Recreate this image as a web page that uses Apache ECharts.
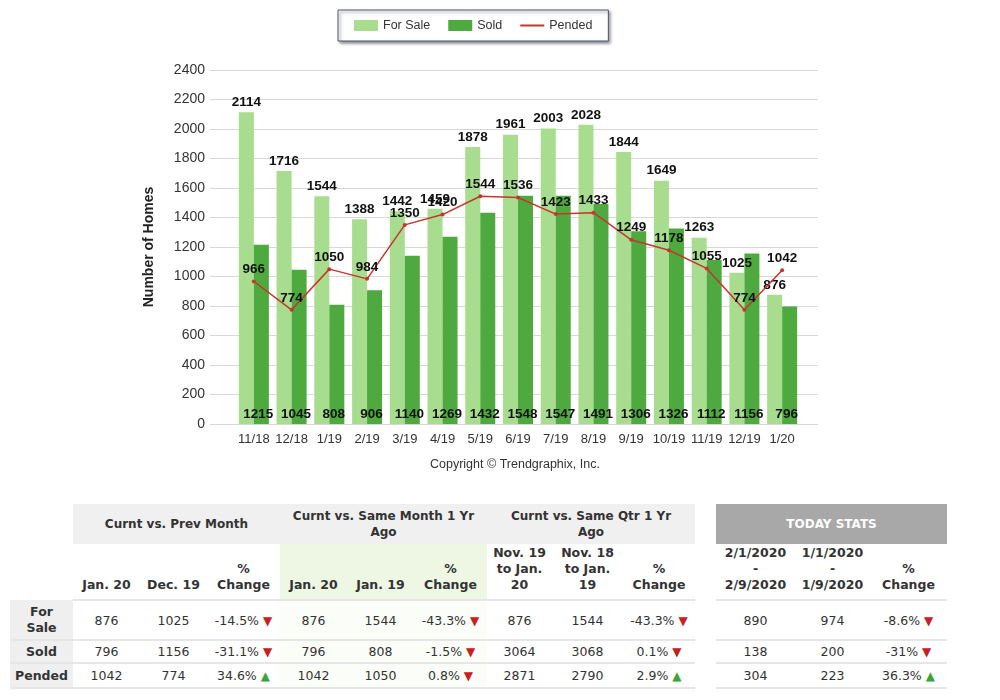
<!DOCTYPE html>
<html><head><meta charset="utf-8">
<script src="https://cdn.jsdelivr.net/npm/echarts@6/dist/echarts.min.js"></script>
<style>
html,body{margin:0;padding:0;background:#fff;}
body{width:1000px;height:700px;overflow:hidden;position:relative;font-family:"DejaVu Sans",sans-serif;}
#chart{position:absolute;left:0;top:0;width:1000px;height:490px;}
#tbl{position:absolute;left:10px;top:504px;border-collapse:collapse;table-layout:fixed;color:#333;font-size:12.5px;}
#tbl td{padding:0;text-align:center;white-space:pre-line;}
#tbl .gh{background:#f0f0f0;font-weight:bold;font-size:12px;line-height:16px;height:40px;}
#tbl .today{background:#a8a8a8;color:#fff;font-weight:bold;font-size:12px;}
#tbl .sh td{font-weight:bold;font-size:12.5px;line-height:16px;vertical-align:bottom;padding-bottom:6px;height:49px;border-bottom:2px solid #e6e6e6;}
#tbl .sh td.blank{border-bottom:none;}
#tbl .rl{background:#efefef;font-weight:bold;line-height:16px;}
#tbl .dr td{border-bottom:2px solid #e6e6e6;}
#tbl .dr td.gap{border-bottom:none;}
#tbl .g2{background:#fbfdf8;}
#tbl .sh td.g2{background:#eef7e4;}
.dn{color:#c62020;font-size:12px;}
.up{color:#3aa53a;font-size:12px;}
</style>
</head><body>
<div id="chart"></div>
<table id="tbl"></table>
<script>
// ---- chart data ----
const months = ['11/18','12/18','1/19','2/19','3/19','4/19','5/19','6/19','7/19','8/19','9/19','10/19','11/19','12/19','1/20'];
const forSale = [2114,1716,1544,1388,1442,1459,1878,1961,2003,2028,1844,1649,1263,1025,876];
const sold = [1215,1045,808,906,1140,1269,1432,1548,1547,1491,1306,1326,1112,1156,796];
const pended = [966,774,1050,984,1350,1420,1544,1536,1423,1433,1249,1178,1055,774,1042];
const yTitle = 'Number of Homes';
const copyright = 'Copyright \u00A9 Trendgraphix, Inc.';

// ---- table data ----
const rowLabels = ['For\nSale','Sold','Pended'];
const groupTitles = ['Curnt vs. Prev Month','Curnt vs. Same Month 1 Yr\nAgo','Curnt vs. Same Qtr 1 Yr\nAgo'];
const todayTitle = 'TODAY STATS';
const groupHeads = [
  ['Jan. 20','Dec. 19','%\nChange'],
  ['Jan. 20','Jan. 19','%\nChange'],
  ['Nov. 19\nto Jan.\n20','Nov. 18\nto Jan.\n19','%\nChange']
];
const todayHeads = ['2/1/2020\n-\n2/9/2020','1/1/2020\n-\n1/9/2020','%\nChange'];
const prevMonthCur = ['876','796','1042'];
const prevMonthPrev = ['1025','1156','774'];
const prevMonthChg = ['-14.5%','-31.1%','34.6%'];
const prevMonthDir = ['down','down','up'];
const yrMonthCur = ['876','796','1042'];
const yrMonthPrev = ['1544','808','1050'];
const yrMonthChg = ['-43.3%','-1.5%','0.8%'];
const yrMonthDir = ['down','down','down'];
const qtrCur = ['876','3064','2871'];
const qtrPrev = ['1544','3068','2790'];
const qtrChg = ['-43.3%','0.1%','2.9%'];
const qtrDir = ['down','down','up'];
const todayCur = ['890','138','304'];
const todayPrev = ['974','200','223'];
const todayChg = ['-8.6%','-31%','36.3%'];
const todayDir = ['down','down','up'];

// ---- chart ----
const chart = echarts.init(document.getElementById('chart'));
const lbl = {fontFamily:'Liberation Sans', fontWeight:'bold', fontSize:13.5, color:'#111'};
chart.setOption({
  animation:false,
  textStyle:{fontFamily:'Liberation Sans'},
  legend:{
    left:338, top:10, padding:[9,16], itemGap:18, itemWidth:24, itemHeight:11,
    borderColor:'#4a5272', borderWidth:1, backgroundColor:'#fff',
    shadowBlur:3, shadowColor:'rgba(0,0,0,0.45)', shadowOffsetX:2, shadowOffsetY:2,
    textStyle:{fontSize:12.5, color:'#333', fontFamily:'Liberation Sans'},
    data:[{name:'For Sale',icon:'rect'},{name:'Sold',icon:'rect'},{name:'Pended',icon:'path://M0,0 L24,0 L24,2 L0,2 Z'}]
  },
  grid:[
    {left:210, right:182, top:70, bottom:66},
    {left:235, right:199, top:70, bottom:66}
  ],
  xAxis:[
    {gridIndex:0, type:'value', min:0, max:1, show:false},
    {gridIndex:1, type:'category', data:months, axisLine:{show:false}, axisTick:{show:false},
     axisLabel:{fontSize:13, color:'#333', margin:9, interval:0}}
  ],
  yAxis:[
    {gridIndex:0, type:'value', min:0, max:2400, interval:200,
     name:yTitle, nameLocation:'middle', nameGap:54, nameRotate:90,
     nameTextStyle:{fontWeight:'bold', fontSize:14, color:'#222'},
     axisLine:{show:false}, axisTick:{show:false},
     axisLabel:{fontSize:14, color:'#333', margin:5, formatter:function(v){return String(v);}},
     splitLine:{lineStyle:{color:'#d8d8d8', width:1}}},
    {gridIndex:1, type:'value', min:0, max:2400, interval:200, show:false, splitLine:{show:false}}
  ],
  series:[
    {name:'For Sale', type:'bar', xAxisIndex:1, yAxisIndex:1, data:forSale, barWidth:15, barGap:'0%',
     itemStyle:{color:'#a8dc8e'}, label:Object.assign({show:true, position:'top', distance:3}, lbl)},
    {name:'Sold', type:'bar', xAxisIndex:1, yAxisIndex:1, data:sold, barWidth:15, barGap:'0%',
     itemStyle:{color:'#4eaa3e'}, label:Object.assign({show:true, position:'insideBottom', distance:3, offset:[-3,0]}, lbl)},
    {name:'Pended', type:'line', xAxisIndex:1, yAxisIndex:1, data:pended, symbol:'circle', symbolSize:4,
     lineStyle:{color:'#c8352c', width:1.5}, itemStyle:{color:'#c8352c'}, z:5,
     label:Object.assign({show:true, position:'top', distance:3}, lbl)}
  ],
  graphic:[
    {type:'text', left:430, top:458, style:{text:copyright, fontSize:12.5, fill:'#333', fontFamily:'Liberation Sans'}}
  ]
});

// ---- table ----
function esc(s){return String(s);}
const tbl = document.getElementById('tbl');
const widths = [63, 67,67,73, 67,67,73, 65,71,72, 21, 79,75,77];
let html = '<colgroup>' + widths.map(w=>'<col style="width:'+w+'px">').join('') + '</colgroup>';
html += '<tr><td></td>' + groupTitles.map(t=>'<td colspan="3" class="gh">'+esc(t)+'</td>').join('') +
        '<td></td><td colspan="3" class="gh today">'+todayTitle+'</td></tr>';
html += '<tr class="sh"><td class="blank"></td>';
groupHeads.forEach((g,gi)=>{ g.forEach(h=>{ html += '<td'+(gi===1?' class="g2"':'')+'>'+esc(h)+'</td>'; }); });
html += '<td class="blank"></td>' + todayHeads.map(h=>'<td>'+esc(h)+'</td>').join('') + '</tr>';
const rowH = [40,23,25];
function chg(v,d){return v+' <span class="'+(d==='up'?'up':'dn')+'">'+(d==='up'?'\u25B2':'\u25BC')+'</span>';}
for(let i=0;i<3;i++){
  html += '<tr class="dr" style="height:'+rowH[i]+'px"><td class="rl">'+rowLabels[i]+'</td>';
  html += '<td>'+prevMonthCur[i]+'</td><td>'+prevMonthPrev[i]+'</td><td>'+chg(prevMonthChg[i],prevMonthDir[i])+'</td>';
  html += '<td class="g2">'+yrMonthCur[i]+'</td><td class="g2">'+yrMonthPrev[i]+'</td><td class="g2">'+chg(yrMonthChg[i],yrMonthDir[i])+'</td>';
  html += '<td>'+qtrCur[i]+'</td><td>'+qtrPrev[i]+'</td><td>'+chg(qtrChg[i],qtrDir[i])+'</td>';
  html += '<td class="gap"></td>';
  html += '<td>'+todayCur[i]+'</td><td>'+todayPrev[i]+'</td><td>'+chg(todayChg[i],todayDir[i])+'</td></tr>';
}
tbl.innerHTML = html;
</script>
</body></html>
